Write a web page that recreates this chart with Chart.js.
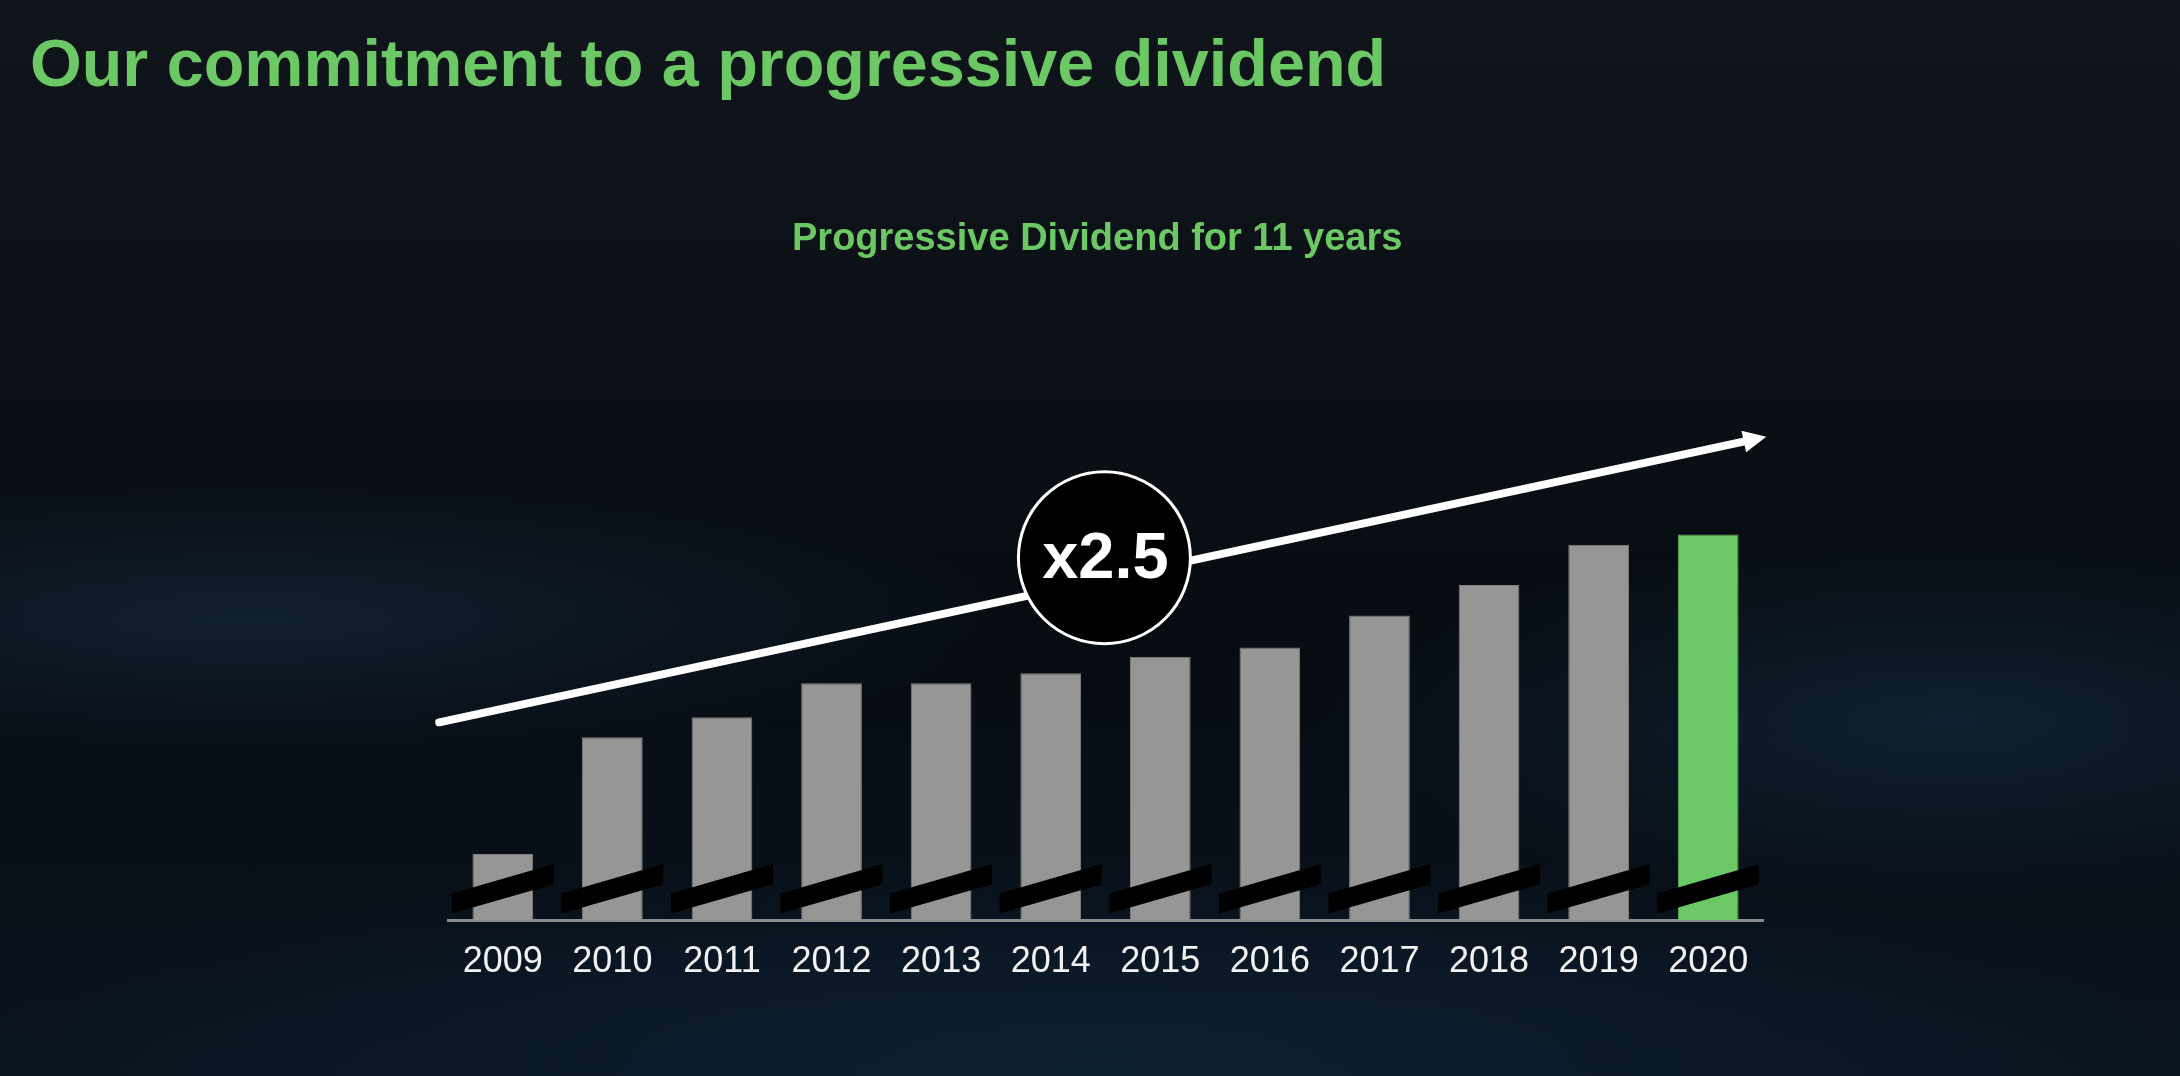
<!DOCTYPE html>
<html>
<head>
<meta charset="utf-8">
<title>Our commitment to a progressive dividend</title>
<script src="https://cdn.jsdelivr.net/npm/chart.js@4.4.1/dist/chart.umd.min.js"></script>
<style>
    html, body {
        margin: 0;
        padding: 0;
        width: 2180px;
        height: 1076px;
        overflow: hidden;
    }
    body {
        position: relative;
        font-family: "Liberation Sans", Arial, sans-serif;
        background:
            radial-gradient(ellipse 1100px 200px at 250px 620px, rgba(35, 70, 105, 0.33), transparent 70%),
            radial-gradient(ellipse 900px 260px at 1950px 720px, rgba(30, 70, 105, 0.33), transparent 70%),
            radial-gradient(ellipse 1700px 300px at 1100px 1060px, rgba(20, 50, 85, 0.4), transparent 70%),
            linear-gradient(180deg, #0f151b 0%, #0b1016 35%, #070c12 60%, #09131d 100%);
    }
    #title {
        position: absolute;
        left: 30px;
        top: 30px;
        margin: 0;
        font-size: 66.5px;
        line-height: 67px;
        font-weight: bold;
        color: #6cc864;
        white-space: nowrap;
    }
    #subtitle {
        position: absolute;
        left: 792px;
        top: 218px;
        margin: 0;
        font-size: 38px;
        line-height: 38px;
        font-weight: bold;
        color: #6cc864;
        white-space: nowrap;
    }
    #chart {
        position: absolute;
        left: 0;
        top: 0;
    }
</style>
</head>
<body>
<canvas id="chart" width="2180" height="1076"></canvas>
<h1 id="title">Our commitment to a progressive dividend</h1>
<h2 id="subtitle">Progressive Dividend for 11 years</h2>

<script>
// values (broken axis, 2020 = 100)
const years = ['2009', '2010', '2011', '2012', '2013', '2014', '2015', '2016', '2017', '2018', '2019', '2020'];
const dividendIndex = [17.1, 47.4, 52.6, 61.4, 61.4, 64.0, 68.3, 70.7, 79.0, 86.9, 97.4, 100.0];
const highlightYear = '2020';

// growth arrow and badge, in axis units [category index, value]
const growthLabel = 'x2.5';
const arrowFrom = [-0.58, 51.3];
const arrowTo = [11.53, 125.4];
const badgeAt = [5.49, 94.0];

// axis break strokes: value at left end, value at right end, thickness
const breakLeft = 4.3;
const breakRight = 11.9;
const breakThickness = 5.2;

const fontFamily = '"Liberation Sans", Arial, sans-serif';

const decorations = {
    id: 'decorations',
    afterDatasetsDraw(chart) {
        const ctx = chart.ctx;
        const x = chart.scales.x;
        const y = chart.scales.y;
        const step = x.getPixelForValue(1) - x.getPixelForValue(0);

        ctx.save();

        // black slanted break marks on every bar
        ctx.fillStyle = '#000';
        const half = breakThickness / 2;
        years.forEach(function(year, i) {
            const cx = x.getPixelForValue(i);
            const xl = cx - step * 0.465;
            const xr = cx + step * 0.465;
            ctx.beginPath();
            ctx.moveTo(xl, y.getPixelForValue(breakLeft + half));
            ctx.lineTo(xr, y.getPixelForValue(breakRight + half));
            ctx.lineTo(xr, y.getPixelForValue(breakRight - half));
            ctx.lineTo(xl, y.getPixelForValue(breakLeft - half));
            ctx.closePath();
            ctx.fill();
        });

        // arrow
        const x1 = x.getPixelForValue(arrowFrom[0]);
        const y1 = y.getPixelForValue(arrowFrom[1]);
        const x2 = x.getPixelForValue(arrowTo[0]);
        const y2 = y.getPixelForValue(arrowTo[1]);
        const len = Math.hypot(x2 - x1, y2 - y1);
        const ux = (x2 - x1) / len;
        const uy = (y2 - y1) / len;
        const headLen = 23;
        const headHalf = 11;

        ctx.strokeStyle = '#fff';
        ctx.fillStyle = '#fff';
        ctx.lineWidth = 8;
        ctx.lineCap = 'round';
        ctx.beginPath();
        ctx.moveTo(x1, y1);
        ctx.lineTo(x2 - ux * (headLen - 2), y2 - uy * (headLen - 2));
        ctx.stroke();

        const bx = x2 - ux * headLen;
        const by = y2 - uy * headLen;
        ctx.beginPath();
        ctx.moveTo(x2, y2);
        ctx.lineTo(bx - uy * headHalf, by + ux * headHalf);
        ctx.lineTo(bx + uy * headHalf, by - ux * headHalf);
        ctx.closePath();
        ctx.fill();

        // x2.5 badge
        const bcx = x.getPixelForValue(badgeAt[0]);
        const bcy = y.getPixelForValue(badgeAt[1]);
        ctx.beginPath();
        ctx.arc(bcx, bcy, 86, 0, Math.PI * 2);
        ctx.fillStyle = '#000';
        ctx.fill();
        ctx.lineWidth = 3;
        ctx.strokeStyle = '#fff';
        ctx.stroke();

        ctx.fillStyle = '#fff';
        ctx.font = 'bold 65px ' + fontFamily;
        ctx.textAlign = 'center';
        ctx.textBaseline = 'middle';
        ctx.fillText(growthLabel, bcx + 1, bcy + 2);

        ctx.restore();
    }
};

const ctx = document.getElementById('chart').getContext('2d');
const dividendChart = new Chart(ctx, {
    type: 'bar',
    data: {
        labels: years,
        datasets: [{
            label: 'Dividend',
            data: dividendIndex,
            backgroundColor: years.map(function(y) { return y === highlightYear ? '#6cc864' : '#969696'; }),
            borderColor: years.map(function(y) { return y === highlightYear ? '#5aae54' : '#808080'; }),
            borderWidth: 1,
            categoryPercentage: 1,
            barPercentage: 0.554
        }]
    },
    options: {
        responsive: false,
        animation: false,
        layout: {
            padding: { left: 448, right: 417, top: 419, bottom: 96 }
        },
        plugins: {
            legend: { display: false },
            tooltip: { enabled: false }
        },
        scales: {
            x: {
                grid: { display: false },
                border: { display: true, color: '#8c8c8c', width: 3 },
                ticks: {
                    color: '#f2f2f2',
                    font: { family: fontFamily, size: 36 },
                    padding: 12,
                    maxRotation: 0,
                    autoSkip: false
                },
                afterFit: function(scale) {
                    scale.height = 60;
                }
            },
            y: {
                display: false,
                min: 0,
                max: 130
            }
        }
    },
    plugins: [decorations]
});
</script>
</body>
</html>
